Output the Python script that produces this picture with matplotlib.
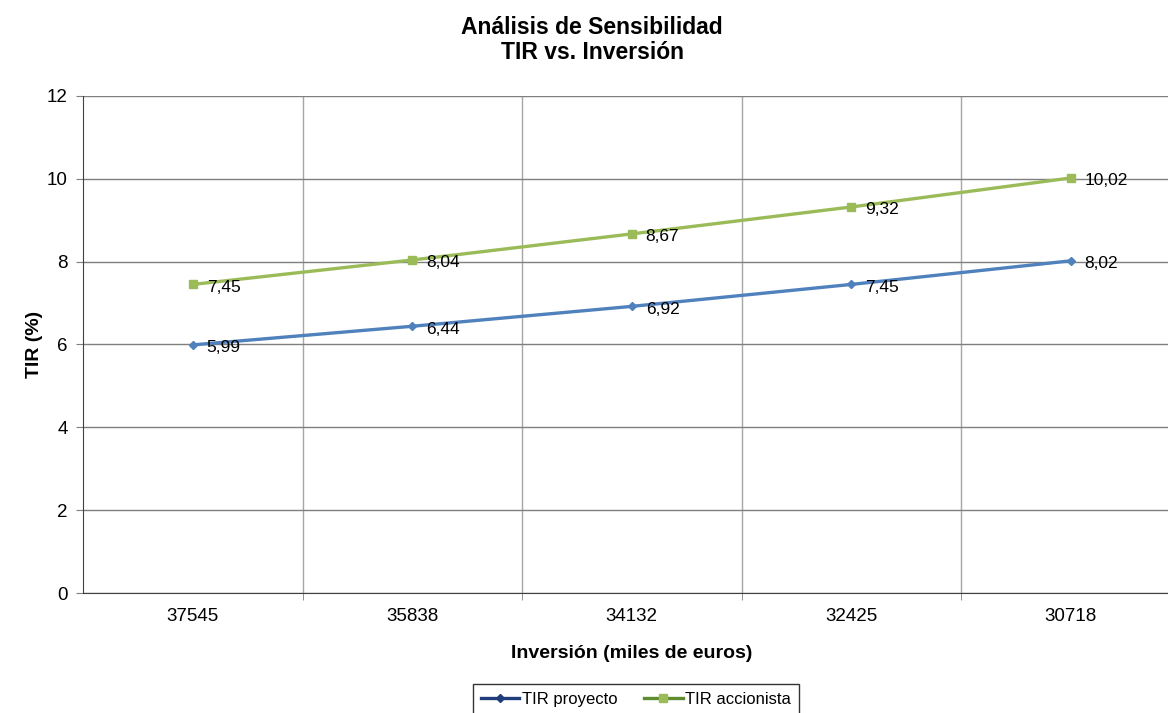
import matplotlib.pyplot as plt
from matplotlib.lines import Line2D

plt.rcParams['font.family'] = ['Liberation Sans', 'DejaVu Sans']

# data
inversion = ['37545', '35838', '34132', '32425', '30718']
tir_proyecto = [5.99, 6.44, 6.92, 7.45, 8.02]
tir_accionista = [7.45, 8.04, 8.67, 9.32, 10.02]

fig = plt.figure(figsize=(11.68, 7.13), dpi=100)
ax = fig.add_axes([0.0711, 0.1683, 0.9396, 0.6971])

x = list(range(len(inversion)))
ax.plot(x, tir_proyecto, color='#4F81BD', lw=2.4, marker='D', ms=4.5,
        markeredgecolor='#4F81BD', zorder=3)
ax.plot(x, tir_accionista, color='#9BBB59', lw=2.4, marker='s', ms=6,
        markeredgecolor='#9BBB59', zorder=3)

# value labels, comma as decimal separator
for serie in (tir_proyecto, tir_accionista):
    for xi, v in zip(x, serie):
        ax.annotate(f'{v:.2f}'.replace('.', ','), (xi, v), xytext=(10, -2),
                    textcoords='offset points', va='center', ha='left', fontsize=12.5)

ax.set_xlim(-0.5, len(inversion) - 0.5)
ax.set_ylim(0, 12)
ax.set_yticks(range(0, 13, 2))
ax.set_xticks(x)
ax.set_xticklabels(inversion)
ax.set_xticks([i + 0.5 for i in x[:-1]], minor=True)

ax.grid(axis='y', which='major', color='#7F7F7F', lw=1)
ax.grid(axis='x', which='minor', color='#A6A6A6', lw=1)
ax.tick_params(axis='x', which='major', length=0, labelsize=13.5, pad=11)
ax.tick_params(axis='x', which='minor', length=5, direction='out', color='#7F7F7F')
ax.tick_params(axis='y', length=5, direction='out', labelsize=13.5, pad=6, color='#7F7F7F')

for s in ['top', 'right']:
    ax.spines[s].set_visible(False)
ax.spines['left'].set_color('#404040')
ax.spines['bottom'].set_color('#404040')
ax.set_axisbelow(True)

ax.set_xlabel('Inversión (miles de euros)', fontsize=14, fontweight='bold', labelpad=14)
ax.set_ylabel('TIR (%)', fontsize=14, fontweight='bold', labelpad=3)

fig.text(0.507, 0.978, 'Análisis de Sensibilidad\nTIR vs. Inversión', ha='center',
         va='top', fontsize=16.5, fontweight='bold', linespacing=1.15)

handles = [
    Line2D([], [], color='#1F3D7A', lw=2.4, marker='D', ms=4.5, label='TIR proyecto'),
    Line2D([], [], color='#5E8C2E', lw=2.4, marker='s', ms=6,
           markerfacecolor='#9BBB59', markeredgecolor='#9BBB59', label='TIR accionista'),
]
leg = fig.legend(handles=handles, loc='upper center', bbox_to_anchor=(0.5445, 0.041),
                 ncol=2, fontsize=12, frameon=True, fancybox=False, handlelength=2.3,
                 handletextpad=0.15, columnspacing=1.6, borderpad=0.5, borderaxespad=0)
leg.get_frame().set_edgecolor('black')
leg.get_frame().set_linewidth(1)

fig.savefig('out.png', dpi=100, facecolor='white')
